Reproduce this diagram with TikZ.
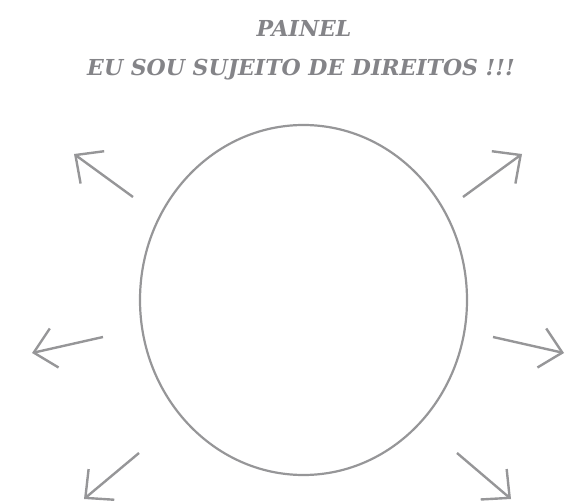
\documentclass[tikz,border=0pt]{standalone}
\usepackage{fontspec}
\setmainfont{DejaVu Serif}
\usetikzlibrary{arrows.meta,shapes.geometric}
\definecolor{painelgray}{RGB}{132,132,136}
\definecolor{linegray}{RGB}{150,150,152}
\tikzstyle{titletext} = [text=painelgray,font=\fontsize{22}{24}\selectfont\bfseries\itshape,inner sep=0pt,anchor=base]
\tikzstyle{board}     = [ellipse,draw=linegray,line width=2.2pt,minimum width=327pt,minimum height=350pt,inner sep=0pt]
\tikzstyle{ray}       = [draw=linegray,line width=2.4pt,-{Straight Barb[length=21pt,width=40pt]}]

\begin{document}
\begin{tikzpicture}[x=1pt,y=-1pt]
\useasboundingbox (0,0) rectangle (567,502);

\node[titletext] (T1) at (304,37) {PAINEL};
\node[titletext] (T2) at (301,76) {EU SOU SUJEITO DE DIREITOS !!!};

\node[board] (E) at (303.5,300) {};

% tails and tips of the rays
\coordinate (A1) at (133,197); \coordinate (B1) at (74,154);
\coordinate (A2) at (463,197); \coordinate (B2) at (522,154);
\coordinate (A3) at (103,337); \coordinate (B3) at (32,353);
\coordinate (A4) at (493,337); \coordinate (B4) at (564,353);
\coordinate (A5) at (139,453); \coordinate (B5) at (84,499);
\coordinate (A6) at (457,453); \coordinate (B6) at (511,499);

\foreach \i in {1,...,6}
    \draw[ray] (A\i) -- (B\i);

\end{tikzpicture}
\end{document}
